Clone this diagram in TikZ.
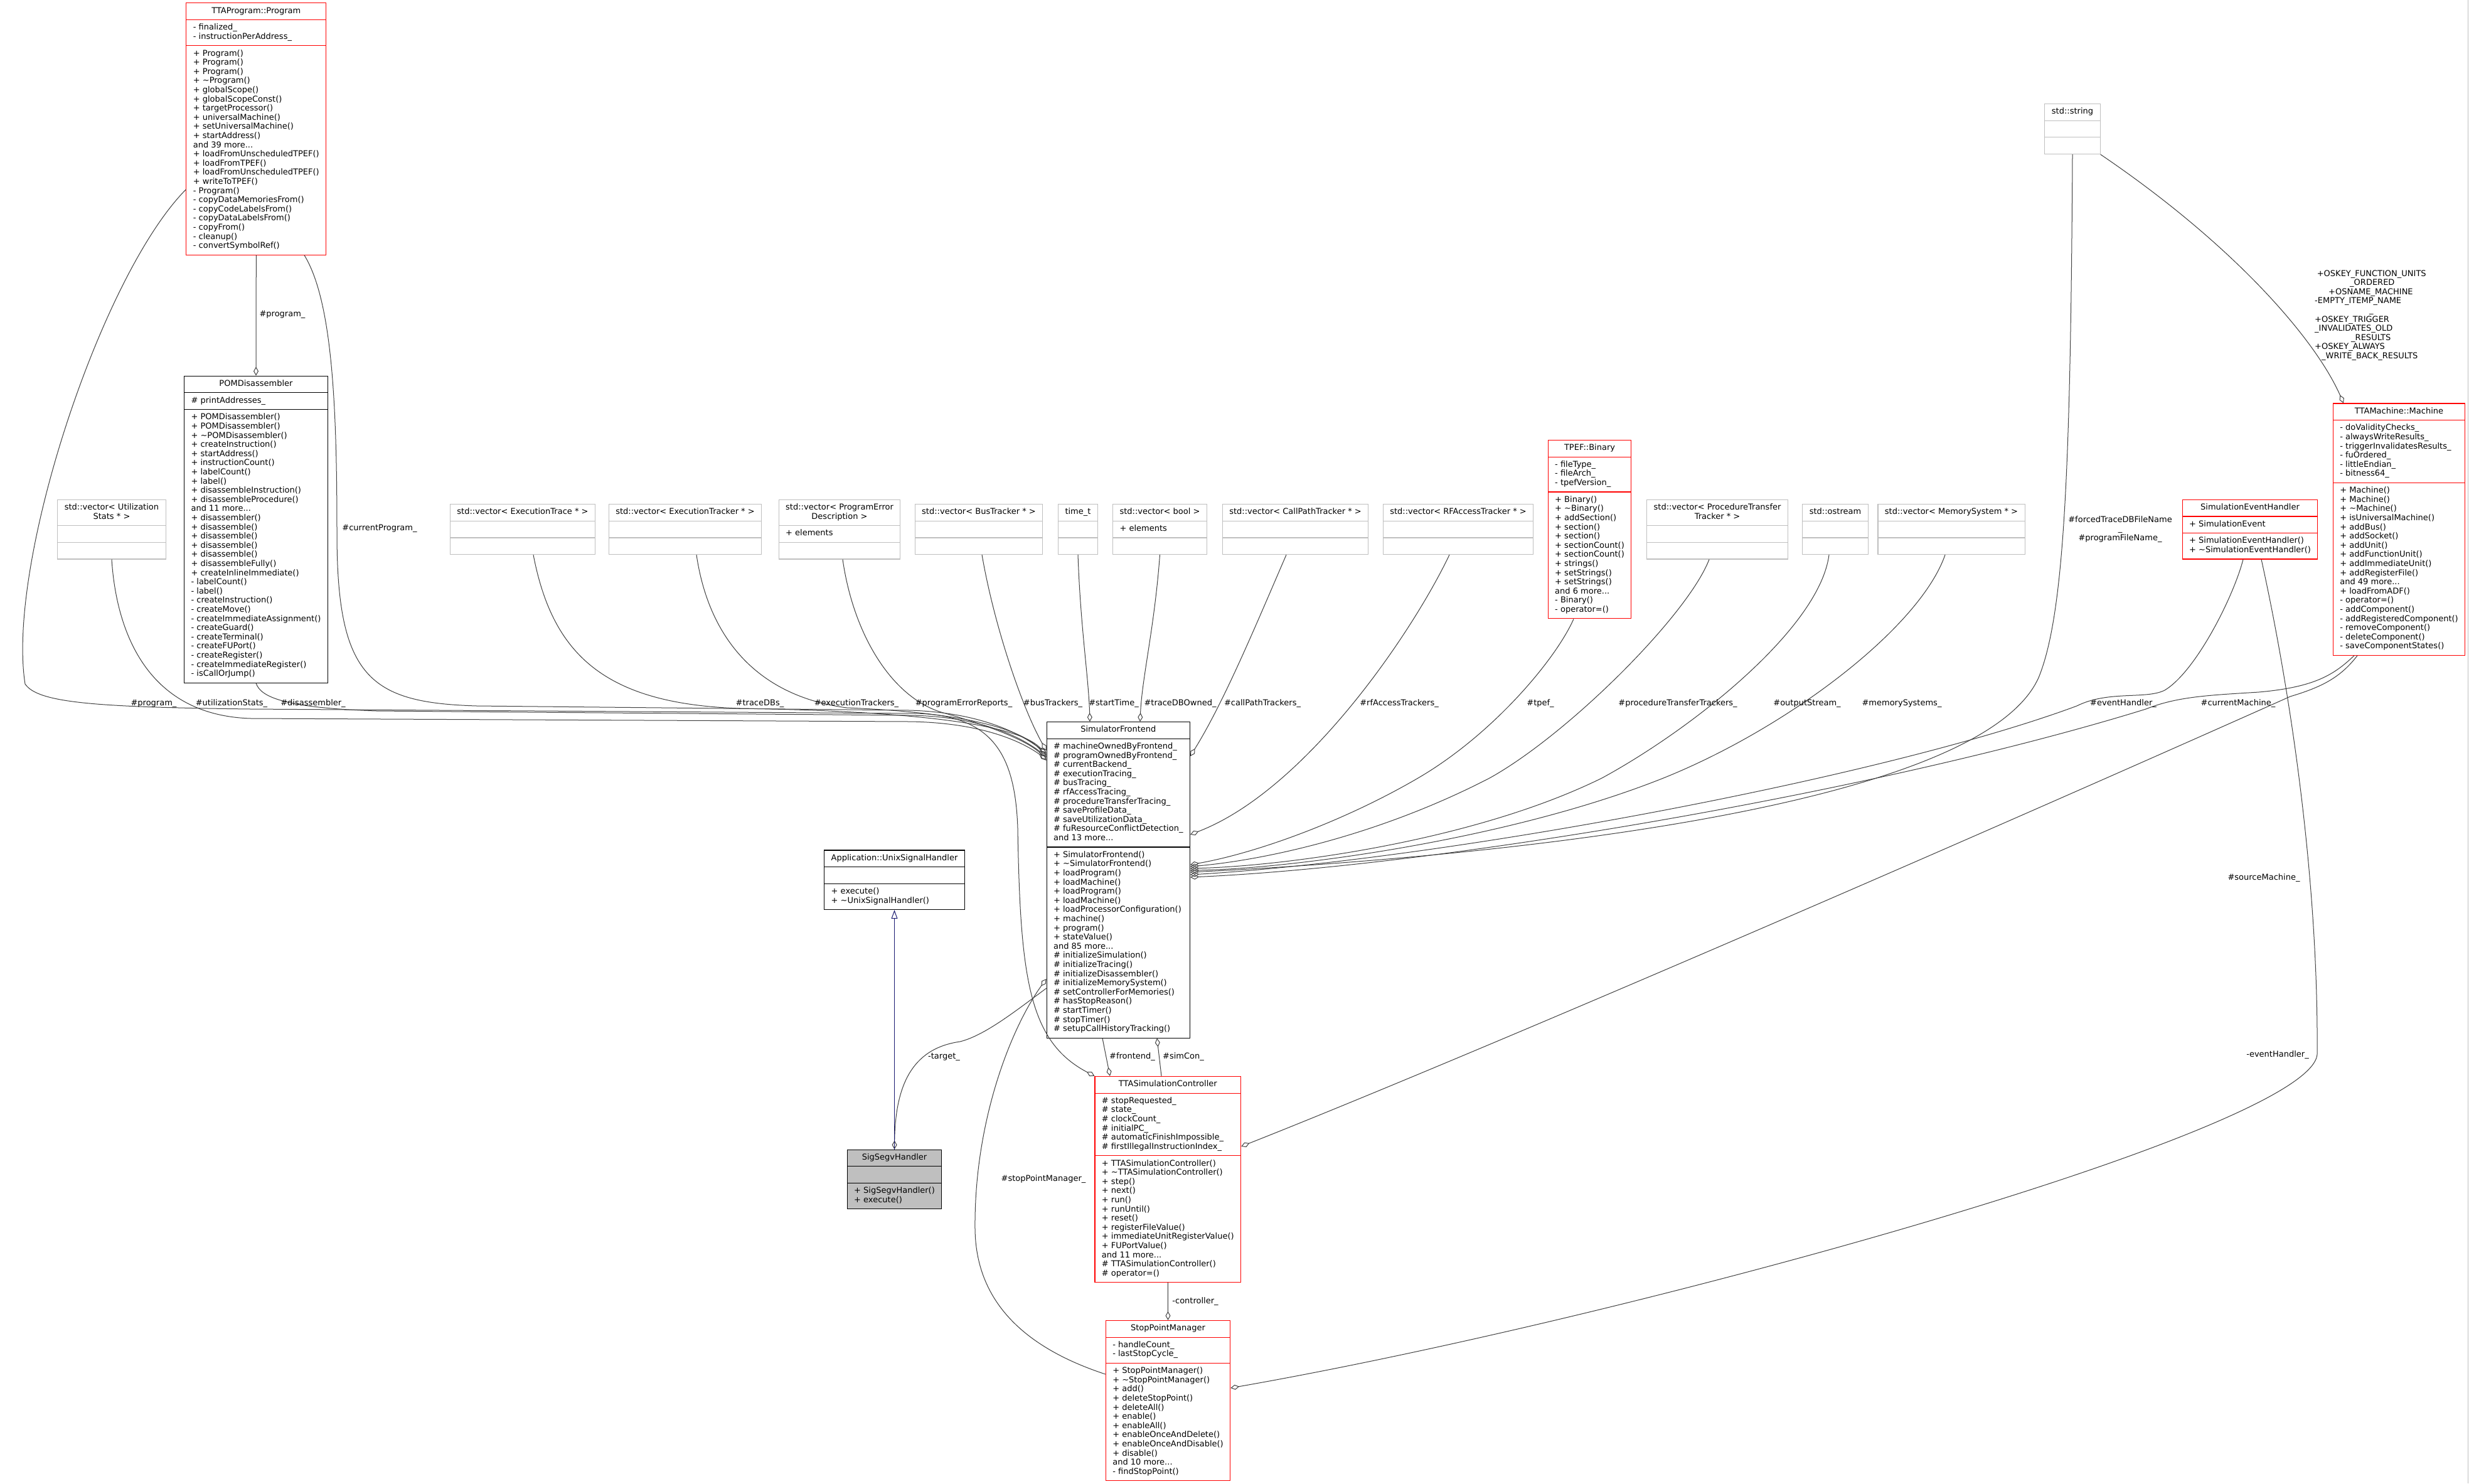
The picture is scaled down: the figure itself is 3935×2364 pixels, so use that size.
\documentclass[tikz,border=0pt]{standalone}
\usepackage{fontspec}
\setmainfont{DejaVu Sans}
\usetikzlibrary{shapes.multipart,arrows.meta,calc}
\definecolor{edgec}{HTML}{404040}
\definecolor{grayb}{HTML}{BFBFBF}
\definecolor{inhc}{HTML}{191970}
\definecolor{redb}{HTML}{FF0000}
\newcommand\tl[1]{\begin{tabular}{@{}l@{}}#1\end{tabular}}
\newcommand\tc[1]{\begin{tabular}{@{}c@{}}#1\end{tabular}}
\newcommand\tlt[1]{\begin{tabular}[t]{@{}l@{}}#1\end{tabular}}
\newcommand\tct[1]{\begin{tabular}[t]{@{}c@{}}#1\end{tabular}}
\newcommand\tld{\textasciitilde}
\begin{document}
\begin{tikzpicture}[x=1pt,y=-1pt,
  every node/.style={font=\fontsize{13}{14.6}\selectfont},
  cls/.style={rectangle split, rectangle split parts=3,
    rectangle split part align={center,left,left},
    draw=black, line width=1.1pt, inner xsep=11pt, inner ysep=5.5pt, fill=white},
  redcls/.style={cls, draw=redb},
  graycls/.style={cls, draw=grayb},
  selcls/.style={cls, fill=grayb},
  agg/.style={draw=edgec, line width=1pt, -{Diamond[open,length=14pt,width=8pt,line width=1pt]}},
  inh/.style={draw=inhc, line width=1pt, -{Triangle[open,length=14pt,width=10pt,line width=1pt]}},
  lbl/.style={inner sep=0pt, anchor=base},
  lblw/.style={inner sep=0pt, anchor=base west},
]
\fill[white] (0,0) rectangle (3935,2364);
\useasboundingbox (0,0) rectangle (3935,2364);
\draw[grayb, line width=1pt] (3933,0) -- (3933,2364);

% ---------- rank 1
\node[redcls] (prog) at (408.3,205.5) {\tl{TTAProgram::Program}
 \nodepart{two}\tl{- finalized\_\\- instructionPerAddress\_}
 \nodepart{three}\tl{+ Program()\\+ Program()\\+ Program()\\+ \tld Program()\\+ globalScope()\\+ globalScopeConst()\\+ targetProcessor()\\+ universalMachine()\\+ setUniversalMachine()\\+ startAddress()\\and 39 more...\\+ loadFromUnscheduledTPEF()\\+ loadFromTPEF()\\+ loadFromUnscheduledTPEF()\\+ writeToTPEF()\\- Program()\\- copyDataMemoriesFrom()\\- copyCodeLabelsFrom()\\- copyDataLabelsFrom()\\- copyFrom()\\- cleanup()\\- convertSymbolRef()}};
\node[graycls] (string) at (3303,205.5) {\tl{std::string}\nodepart{two}\strut\nodepart{three}\strut};

% ---------- rank 2
\node[cls] (pom) at (408,843.6) {\tl{POMDisassembler}
 \nodepart{two}\tl{\# printAddresses\_}
 \nodepart{three}\tl{+ POMDisassembler()\\+ POMDisassembler()\\+ \tld POMDisassembler()\\+ createInstruction()\\+ startAddress()\\+ instructionCount()\\+ labelCount()\\+ label()\\+ disassembleInstruction()\\+ disassembleProcedure()\\and 11 more...\\+ disassembler()\\+ disassemble()\\+ disassemble()\\+ disassemble()\\+ disassemble()\\+ disassembleFully()\\+ createInlineImmediate()\\- labelCount()\\- label()\\- createInstruction()\\- createMove()\\- createImmediateAssignment()\\- createGuard()\\- createTerminal()\\- createFUPort()\\- createRegister()\\- createImmediateRegister()\\- isCallOrJump()}};
\node[graycls] (util) at (178,843.6) {\tc{std::vector< Utilization\\Stats * >}\nodepart{two}\strut\nodepart{three}\strut};
\node[graycls] (etrace) at (833,843.6) {\tl{std::vector< ExecutionTrace * >}\nodepart{two}\strut\nodepart{three}\strut};
\node[graycls] (etracker) at (1092,843.6) {\tl{std::vector< ExecutionTracker * >}\nodepart{two}\strut\nodepart{three}\strut};
\node[graycls] (progerr) at (1338,843.6) {\tc{std::vector< ProgramError\\Description >}\nodepart{two}\tl{+ elements}\nodepart{three}\strut};
\node[graycls] (bus) at (1560,843.6) {\tl{std::vector< BusTracker * >}\nodepart{two}\strut\nodepart{three}\strut};
\node[graycls] (time) at (1718,843.6) {\tl{time\_t}\nodepart{two}\strut\nodepart{three}\strut};
\node[graycls] (bool) at (1848.5,843.6) {\tl{std::vector< bool >}\nodepart{two}\tl{+ elements}\nodepart{three}\strut};
\node[graycls] (callpath) at (2064.5,843.6) {\tl{std::vector< CallPathTracker * >}\nodepart{two}\strut\nodepart{three}\strut};
\node[graycls] (rfaccess) at (2324,843.6) {\tl{std::vector< RFAccessTracker * >}\nodepart{two}\strut\nodepart{three}\strut};
\node[redcls] (tpef) at (2533.5,843.6) {\tl{TPEF::Binary}
 \nodepart{two}\tl{- fileType\_\\- fileArch\_\\- tpefVersion\_}
 \nodepart{three}\tl{+ Binary()\\+ \tld Binary()\\+ addSection()\\+ section()\\+ section()\\+ sectionCount()\\+ sectionCount()\\+ strings()\\+ setStrings()\\+ setStrings()\\and 6 more...\\- Binary()\\- operator=()}};
\node[graycls] (proctr) at (2737,843.6) {\tc{std::vector< ProcedureTransfer\\Tracker * >}\nodepart{two}\strut\nodepart{three}\strut};
\node[graycls] (ostream) at (2925,843.6) {\tl{std::ostream}\nodepart{two}\strut\nodepart{three}\strut};
\node[graycls] (memsys) at (3110,843.6) {\tl{std::vector< MemorySystem * >}\nodepart{two}\strut\nodepart{three}\strut};
\node[redcls] (simev) at (3586,843.6) {\tl{SimulationEventHandler}
 \nodepart{two}\tl{+ SimulationEvent}
 \nodepart{three}\tl{+ SimulationEventHandler()\\+ \tld SimulationEventHandler()}};
\node[redcls] (machine) at (3823.5,843.6) {\tl{TTAMachine::Machine}
 \nodepart{two}\tl{- doValidityChecks\_\\- alwaysWriteResults\_\\- triggerInvalidatesResults\_\\- fuOrdered\_\\- littleEndian\_\\- bitness64\_}
 \nodepart{three}\tl{+ Machine()\\+ Machine()\\+ \tld Machine()\\+ isUniversalMachine()\\+ addBus()\\+ addSocket()\\+ addUnit()\\+ addFunctionUnit()\\+ addImmediateUnit()\\+ addRegisterFile()\\and 49 more...\\+ loadFromADF()\\- operator=()\\- addComponent()\\- addRegisteredComponent()\\- removeComponent()\\- deleteComponent()\\- saveComponentStates()}};

% ---------- rank 3
\node[cls] (unix) at (1425.5,1402.3) {\tl{Application::UnixSignalHandler}
 \nodepart{two}\strut
 \nodepart{three}\tl{+ execute()\\+ \tld UnixSignalHandler()}};
\node[cls] (sf) at (1782.3,1402.3) {\tl{SimulatorFrontend}
 \nodepart{two}\tl{\# machineOwnedByFrontend\_\\\# programOwnedByFrontend\_\\\# currentBackend\_\\\# executionTracing\_\\\# busTracing\_\\\# rfAccessTracing\_\\\# procedureTransferTracing\_\\\# saveProfileData\_\\\# saveUtilizationData\_\\\# fuResourceConflictDetection\_\\and 13 more...}
 \nodepart{three}\tl{+ SimulatorFrontend()\\+ \tld SimulatorFrontend()\\+ loadProgram()\\+ loadMachine()\\+ loadProgram()\\+ loadMachine()\\+ loadProcessorConfiguration()\\+ machine()\\+ program()\\+ stateValue()\\and 85 more...\\\# initializeSimulation()\\\# initializeTracing()\\\# initializeDisassembler()\\\# initializeMemorySystem()\\\# setControllerForMemories()\\\# hasStopReason()\\\# startTimer()\\\# stopTimer()\\\# setupCallHistoryTracking()}};

% ---------- rank 4
\node[selcls] (sigsegv) at (1425.5,1879.5) {\tl{SigSegvHandler}
 \nodepart{two}\strut
 \nodepart{three}\tl{+ SigSegvHandler()\\+ execute()}};
\node[redcls] (tsc) at (1861.3,1879.5) {\tl{TTASimulationController}
 \nodepart{two}\tl{\# stopRequested\_\\\# state\_\\\# clockCount\_\\\# initialPC\_\\\# automaticFinishImpossible\_\\\# firstIllegalInstructionIndex\_}
 \nodepart{three}\tl{+ TTASimulationController()\\+ \tld TTASimulationController()\\+ step()\\+ next()\\+ run()\\+ runUntil()\\+ reset()\\+ registerFileValue()\\+ immediateUnitRegisterValue()\\+ FUPortValue()\\and 11 more...\\\# TTASimulationController()\\\# operator=()}};

% ---------- rank 5
\node[redcls] (spm) at (1861.5,2232) {\tl{StopPointManager}
 \nodepart{two}\tl{- handleCount\_\\- lastStopCycle\_}
 \nodepart{three}\tl{+ StopPointManager()\\+ \tld StopPointManager()\\+ add()\\+ deleteStopPoint()\\+ deleteAll()\\+ enable()\\+ enableAll()\\+ enableOnceAndDelete()\\+ enableOnceAndDisable()\\+ disable()\\and 10 more...\\- findStopPoint()}};

% ---------- edges
\draw[agg] (prog.south) -- (pom.north);
\draw[agg] (prog.west |- 0,302) .. controls (160,440) and (10,900) .. (40,1090)
  .. controls (60,1120) and (150,1127) .. (400,1130) -- (1460,1137)
  .. controls (1580,1140) and (1618,1200) .. (1622,1320)
  .. controls (1626,1560) and (1640,1660) .. (tsc.north west);
\draw[agg] (util.south) .. controls (185,1000) and (230,1140) .. (400,1145) -- (1450,1150)
  .. controls (1580,1152) and (1640,1190) .. (sf.west |- 0,1210);
\draw[agg] (pom.south) .. controls (415,1110) and (450,1128) .. (600,1133) -- (1450,1140)
  .. controls (1580,1142) and (1640,1185) .. (sf.west |- 0,1205);
\draw[agg] (prog.south -| 485,0) .. controls (530,480) and (537,650) .. (537,850)
  .. controls (537,1080) and (590,1120) .. (760,1125) -- (1450,1132)
  .. controls (1580,1136) and (1640,1180) .. (sf.west |- 0,1200);
\draw[agg] (etrace.south -| 850,0) .. controls (880,1040) and (960,1122) .. (1180,1129)
  .. controls (1500,1134) and (1630,1160) .. (sf.west |- 0,1203);
\draw[agg] (etracker.south -| 1110,0) .. controls (1130,1020) and (1210,1110) .. (1350,1128)
  .. controls (1550,1136) and (1635,1165) .. (sf.west |- 0,1207);
\draw[agg] (progerr.south -| 1343,0) .. controls (1360,1010) and (1420,1110) .. (1500,1135)
  .. controls (1590,1160) and (1645,1185) .. (sf.west |- 0,1212);
\draw[agg] (bus.south -| 1565,0) .. controls (1585,1000) and (1630,1130) .. (sf.west |- 0,1196);
\draw[agg] (time.south) .. controls (1722,1000) and (1735,1080) .. (sf.north -| 1737,0);
\draw[agg] (bool.south) .. controls (1840,1000) and (1820,1080) .. (sf.north -| 1817,0);
\draw[agg] (callpath.south -| 2050,0) .. controls (2000,1000) and (1950,1120) .. (sf.east |- 0,1205);
\draw[agg] (rfaccess.south -| 2310,0) .. controls (2250,1010) and (2080,1260) .. (sf.east |- 0,1330);
\draw[agg] (tpef.south -| 2508,0) .. controls (2480,1050) and (2380,1170) .. (2260,1240)
  .. controls (2140,1310) and (2000,1360) .. (sf.east |- 0,1378);
\draw[agg] (proctr.south -| 2724,0) .. controls (2690,980) and (2500,1170) .. (2374,1240)
  .. controls (2200,1330) and (2020,1370) .. (sf.east |- 0,1381);
\draw[agg] (ostream.south -| 2915,0) .. controls (2900,1000) and (2700,1160) .. (2553,1240)
  .. controls (2350,1340) and (2050,1380) .. (sf.east |- 0,1384);
\draw[agg] (memsys.south -| 3100,0) .. controls (3060,1000) and (2850,1160) .. (2651,1240)
  .. controls (2400,1340) and (2050,1385) .. (sf.east |- 0,1387);
\draw[agg] (string.south) .. controls (3300,750) and (3290,980) .. (3249,1080)
  .. controls (3150,1300) and (2300,1370) .. (sf.east |- 0,1390);
\draw[agg] (simev.south -| 3575,0) .. controls (3560,950) and (3500,1070) .. (3450,1100)
  .. controls (3420,1115) and (3360,1100) .. (3310,1125)
  .. controls (3000,1240) and (2300,1370) .. (sf.east |- 0,1394);
\draw[agg] (machine.south -| 3752,0) .. controls (3720,1075) and (3690,1095) .. (3600,1103)
  .. controls (3520,1108) and (3470,1110) .. (3420,1130)
  .. controls (3000,1260) and (2300,1380) .. (sf.east |- 0,1398);
\draw[agg] (machine.south -| 3757,0) .. controls (3730,1080) and (3700,1095) .. (3650,1110)
  .. controls (3000,1400) and (2300,1700) .. (tsc.east |- 0,1827);
\draw[agg] (simev.south -| 3604,0) .. controls (3650,1100) and (3695,1400) .. (3693,1680)
  .. controls (3685,1800) and (2600,2100) .. (spm.east |- 0,2212);
\draw[agg] (string.south east) .. controls (3560,390) and (3690,540) .. (machine.north west -| 3735,0);
\draw[agg] (sf.west |- 0,1575) .. controls (1620,1610) and (1570,1650) .. (1530,1660)
  .. controls (1460,1670) and (1427,1720) .. (sigsegv.north);
\draw[agg] (spm.west |- 0,2190) .. controls (1640,2150) and (1556,2080) .. (1554,1960)
  .. controls (1552,1790) and (1610,1640) .. (sf.west |- 0,1560);
\draw[agg] (sf.south -| 1757,0) -- (tsc.north -| 1769,0);
\draw[agg] (tsc.north -| 1851,0) -- (sf.south -| 1844,0);
\draw[agg] (tsc.south) -- (spm.north);
\draw[inh] (sigsegv.north) -- (unix.south);

% ---------- labels
\node[lbl] (l1) at (450,504) {\#program\_};
\node[lbl] (l2) at (605,845) {\#currentProgram\_};
\node[lbl] (l3) at (245,1124) {\#program\_};
\node[lbl] (l4) at (369,1124) {\#utilizationStats\_};
\node[lbl] (l5) at (499,1124) {\#disassembler\_};
\node[lbl] (l6) at (1211,1124) {\#traceDBs\_};
\node[lbl] (l7) at (1365,1124) {\#executionTrackers\_};
\node[lbl] (l8) at (1536,1124) {\#programErrorReports\_};
\node[lbl] (l9) at (1678,1124) {\#busTrackers\_};
\node[lbl] (l10) at (1775,1124) {\#startTime\_};
\node[lbl] (l11) at (1881,1124) {\#traceDBOwned\_};
\node[lbl] (l12) at (2012,1124) {\#callPathTrackers\_};
\node[lbl] (l13) at (2230,1124) {\#rfAccessTrackers\_};
\node[lbl] (l14) at (2455,1124) {\#tpef\_};
\node[lbl] (l15) at (2674,1124) {\#procedureTransferTrackers\_};
\node[lbl] (l16) at (2880,1124) {\#outputStream\_};
\node[lbl] (l17) at (3031,1124) {\#memorySystems\_};
\node[lbl] (l18) at (3384,1124) {\#eventHandler\_};
\node[lbl] (l19) at (3567,1124) {\#currentMachine\_};
\node[lbl] (l20) at (3379,832) {\tct{\#forcedTraceDBFileName\\\_\\\#programFileName\_}};
\node[lblw] (l21) at (3689,440) {\tlt{\hspace{3.6pt}+OSKEY\_FUNCTION\_UNITS\\\hspace{56pt}\_ORDERED\\\hspace{22pt}+OSNAME\_MACHINE\\-EMPTY\_ITEMP\_NAME\\\hspace{87pt}\_\\+OSKEY\_TRIGGER\\\_INVALIDATES\_OLD\\\hspace{58pt}\_RESULTS\\+OSKEY\_ALWAYS\\\hspace{11pt}\_WRITE\_BACK\_RESULTS}};
\node[lbl] (l22) at (3608,1402) {\#sourceMachine\_};
\node[lbl] (l23) at (3630,1684) {-eventHandler\_};
\node[lbl] (l24) at (1504.5,1687) {-target\_};
\node[lbl] (l25) at (1804.5,1687) {\#frontend\_};
\node[lbl] (l26) at (1886,1687) {\#simCon\_};
\node[lbl] (l27) at (1663,1882) {\#stopPointManager\_};
\node[lbl] (l28) at (1905,2077) {-controller\_};
\end{tikzpicture}
\end{document}
